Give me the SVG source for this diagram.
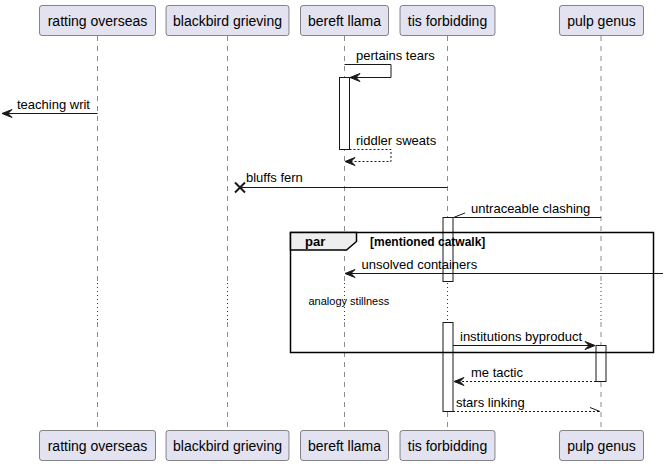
<svg xmlns="http://www.w3.org/2000/svg" width="668" height="466" viewBox="0 0 668 466">
<style>
.pbox{fill:#E2E2F0;stroke:#181818;stroke-width:0.5}
.pt{font-family:"Liberation Sans",Arial,sans-serif;font-size:14px;fill:#000;text-anchor:middle}
.life{stroke:#181818;stroke-width:0.5;stroke-dasharray:5,5;fill:none}
.delay{stroke:#A80036;stroke-width:1;stroke-dasharray:1,3;fill:none}
.act{fill:#FFFFFF;stroke:#181818;stroke-width:1}
.msg{stroke:#181818;stroke-width:1;fill:none}
.dash{stroke:#181818;stroke-width:1;fill:none;stroke-dasharray:2,2}
.head{fill:#181818;stroke:#181818;stroke-width:1}
.mt{font-family:"Liberation Sans",Arial,sans-serif;font-size:13px;fill:#000}
</style>
<rect width="668" height="466" fill="#FFFFFF"/>
<g id="lifelines">
<line class="life" x1="97.5" y1="36" x2="97.5" y2="282"/><line class="delay" x1="97.5" y1="283" x2="97.5" y2="322"/><line class="life" x1="97.5" y1="322" x2="97.5" y2="430"/>
<line class="life" x1="227.5" y1="36" x2="227.5" y2="282"/><line class="delay" x1="227.5" y1="283" x2="227.5" y2="322"/><line class="life" x1="227.5" y1="322" x2="227.5" y2="430"/>
<line class="life" x1="344.5" y1="36" x2="344.5" y2="282"/><line class="delay" x1="344.5" y1="283" x2="344.5" y2="322"/><line class="life" x1="344.5" y1="322" x2="344.5" y2="430"/>
<line class="life" x1="447.5" y1="36" x2="447.5" y2="282"/><line class="delay" x1="447.5" y1="283" x2="447.5" y2="322"/><line class="life" x1="447.5" y1="322" x2="447.5" y2="430"/>
<line class="life" x1="601" y1="36" x2="601" y2="282"/><line class="delay" x1="601" y1="283" x2="601" y2="322"/><line class="life" x1="601" y1="322" x2="601" y2="430"/>
</g>
<g id="activations">
<rect class="act" x="339.5" y="77.5" width="10" height="72"/>
<rect class="act" x="443" y="217.5" width="10" height="64"/>
<rect class="act" x="443" y="322.5" width="10" height="89"/>
<rect class="act" x="596" y="345.5" width="10" height="36"/>
</g>
<g id="p-ratting-overseas"><rect class="pbox" x="39.5" y="5.5" width="116" height="30" rx="2.5"/><text class="pt" x="97.5" y="25.5">ratting overseas</text></g>
<g id="p-blackbird-grieving"><rect class="pbox" x="166" y="5.5" width="123" height="30" rx="2.5"/><text class="pt" x="227.5" y="25.5">blackbird grieving</text></g>
<g id="p-bereft-llama"><rect class="pbox" x="300.5" y="5.5" width="88" height="30" rx="2.5"/><text class="pt" x="344.5" y="25.5">bereft llama</text></g>
<g id="p-tis-forbidding"><rect class="pbox" x="400" y="5.5" width="95" height="30" rx="2.5"/><text class="pt" x="447.5" y="25.5">tis forbidding</text></g>
<g id="p-pulp-genus"><rect class="pbox" x="559.5" y="5.5" width="84" height="30" rx="2.5"/><text class="pt" x="601.5" y="25.5">pulp genus</text></g>
<g id="p-ratting-overseas-bottom"><rect class="pbox" x="39.5" y="430.5" width="116" height="30" rx="2.5"/><text class="pt" x="97.5" y="450.5">ratting overseas</text></g>
<g id="p-blackbird-grieving-bottom"><rect class="pbox" x="166" y="430.5" width="123" height="30" rx="2.5"/><text class="pt" x="227.5" y="450.5">blackbird grieving</text></g>
<g id="p-bereft-llama-bottom"><rect class="pbox" x="300.5" y="430.5" width="88" height="30" rx="2.5"/><text class="pt" x="344.5" y="450.5">bereft llama</text></g>
<g id="p-tis-forbidding-bottom"><rect class="pbox" x="400" y="430.5" width="95" height="30" rx="2.5"/><text class="pt" x="447.5" y="450.5">tis forbidding</text></g>
<g id="p-pulp-genus-bottom"><rect class="pbox" x="559.5" y="430.5" width="84" height="30" rx="2.5"/><text class="pt" x="601.5" y="450.5">pulp genus</text></g>
<g id="par-frame">
<rect x="290.5" y="232.5" width="363" height="120" fill="none" stroke="#000" stroke-width="1.5"/>
<polygon points="290.5,232.5 356.5,232.5 356.5,241.5 346.5,250 290.5,250" fill="#EEEEEE" stroke="#000" stroke-width="1.5"/>
<text x="305" y="246" font-family="'Liberation Sans',Arial,sans-serif" font-size="13" font-weight="bold">par</text>
<text x="370" y="245.5" font-family="'Liberation Sans',Arial,sans-serif" font-size="12" font-weight="bold">[mentioned catwalk]</text>
</g>
<g id="connectors">
<polyline class="msg" points="344.5,64.5 391,64.5 391,77.5 350,77.5"/>
<polygon class="head" points="360,73.5 350,77.5 360,81.5 356,77.5"/>
<text class="mt" x="356" y="60">pertains tears</text>
<line class="msg" x1="97.5" y1="113.5" x2="2" y2="113.5"/>
<polygon class="head" points="12,109.5 2,113.5 12,117.5 8,113.5"/>
<text class="mt" x="17" y="108.5">teaching writ</text>
<polyline class="dash" points="349.5,149.5 391,149.5 391,161.5 345,161.5"/>
<polygon class="head" points="355,157.5 345,161.5 355,165.5 351,161.5"/>
<text class="mt" x="356" y="145">riddler sweats</text>
<line class="msg" x1="447.5" y1="187.5" x2="240" y2="187.5"/>
<path d="M235,182.5 L245,192.5 M235,192.5 L245,182.5" stroke="#181818" stroke-width="2" fill="none"/>
<text class="mt" x="246" y="182">bluffs fern</text>
<line class="msg" x1="601" y1="217.5" x2="453.5" y2="217.5"/>
<line class="msg" x1="453.5" y1="217.5" x2="465" y2="213"/>
<text class="mt" x="471" y="213">untraceable clashing</text>
<line class="msg" x1="663" y1="273.5" x2="345" y2="273.5"/>
<polygon class="head" points="355,269.5 345,273.5 355,277.5 351,273.5"/>
<text class="mt" x="361.5" y="268.5">unsolved containers</text>
<text x="308.5" y="305" font-family="'Liberation Sans',Arial,sans-serif" font-size="11" fill="#000">analogy stillness</text>
<line class="msg" x1="453" y1="345.5" x2="595" y2="345.5"/>
<polygon class="head" points="585,341.5 595,345.5 585,349.5 589,345.5"/>
<text class="mt" x="460" y="341">institutions byproduct</text>
<line class="dash" x1="596" y1="381.5" x2="454" y2="381.5"/>
<polygon class="head" points="464,377.5 454,381.5 464,385.5 460,381.5"/>
<text class="mt" x="471" y="377">me tactic</text>
<line class="dash" x1="453" y1="411.5" x2="600" y2="411.5"/>
<line class="msg" x1="600" y1="411.5" x2="590" y2="407.5"/>
<text class="mt" x="456" y="407">stars linking</text>
</g>
</svg>
